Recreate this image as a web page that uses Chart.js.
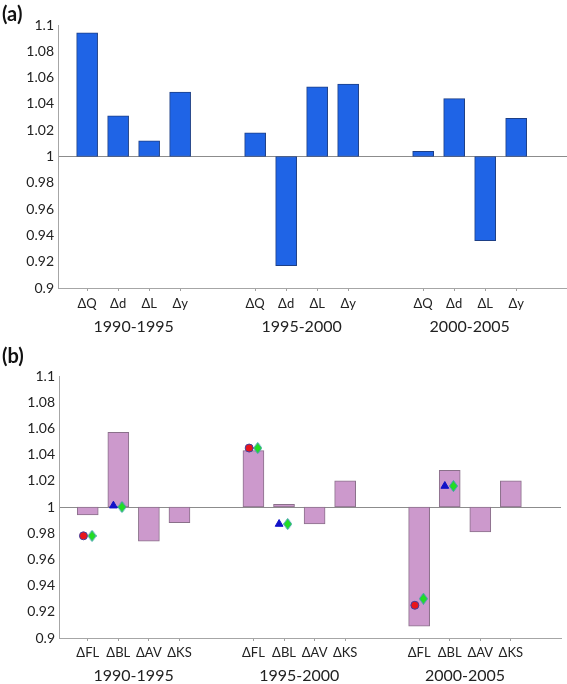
<!DOCTYPE html>
<html>
<head>
<meta charset="utf-8">
<script src="https://cdn.jsdelivr.net/npm/chart.js@4.4.0/dist/chart.umd.min.js"></script>
<style>
  body { margin: 0; background: #fff; width: 567px; height: 684px; overflow: hidden; position: relative; }
  canvas { position: absolute; left: 0; }
  .tag { position: absolute; left: 2px; font: bold 20px Lato, sans-serif; color: #111; line-height: 1; }
</style>
</head>
<body>
<canvas id="chartA" width="567" height="340" style="top:0"></canvas>
<canvas id="chartB" width="567" height="344" style="top:340px"></canvas>
<div class="tag" style="top:3px">(a)</div>
<div class="tag" style="top:345px">(b)</div>
<script>
const periods = ['1990-1995', '1995-2000', '2000-2005'];

// panel (a)
const factorsA = ['ΔQ', 'Δd', 'ΔL', 'Δy'];
const valuesA1990 = [1.094, 1.031, 1.012, 1.049];
const valuesA1995 = [1.018, 0.917, 1.053, 1.055];
const valuesA2000 = [1.004, 1.044, 0.936, 1.029];

// panel (b)
const factorsB = ['ΔFL', 'ΔBL', 'ΔAV', 'ΔKS'];
const valuesB1990 = [0.994, 1.057, 0.974, 0.988];
const valuesB1995 = [1.043, 1.002, 0.987, 1.020];
const valuesB2000 = [0.909, 1.028, 0.981, 1.020];

// markers in panel (b), one per period
const circleFL = [0.978, 1.045, 0.925];
const diamondFL = [0.978, 1.045, 0.930];
const triangleBL = [1.001, 0.987, 1.016];
const diamondBL = [1.000, 0.987, 1.016];

// x layout (axis units)
const X_MAX = 16.42;
const FIRST = 0.94;
const GROUP_STEP = 5.42;
function xPos(g, i) { return FIRST + g * GROUP_STEP + i; }

const font = 'Lato';

function diamondImage() {
  const c = document.createElement('canvas');
  c.width = 9; c.height = 12;
  const g = c.getContext('2d');
  g.beginPath();
  g.moveTo(4.5, 0.5); g.lineTo(8.5, 6); g.lineTo(4.5, 11.5); g.lineTo(0.5, 6); g.closePath();
  g.fillStyle = '#22dd22'; g.fill();
  g.strokeStyle = '#3b9fb0'; g.lineWidth = 1; g.stroke();
  return c;
}

function buildChart(id, factors, groupValues, fill, edge, extraSets, pad) {
  const bars = [];
  const tickPos = [];
  const tickText = [];
  groupValues.forEach((vals, g) => {
    vals.forEach((v, i) => {
      bars.push({ x: xPos(g, i), y: [1, v] });
      tickPos.push(xPos(g, i));
      tickText.push(factors[i]);
    });
  });

  return new Chart(document.getElementById(id), {
    type: 'bar',
    data: {
      datasets: [{
        type: 'bar',
        data: bars,
        backgroundColor: fill,
        borderColor: edge,
        borderWidth: 1,
        borderSkipped: false,
        barThickness: 21,
        order: 5
      }, ...extraSets]
    },
    options: {
      responsive: false,
      animation: false,
      layout: { padding: { top: pad.top, left: 0, right: 0, bottom: 0 } },
      plugins: { legend: { display: false }, tooltip: { enabled: false } },
      scales: {
        x: {
          type: 'linear', position: 'bottom', min: 0, max: X_MAX, offset: false, weight: 0,
          afterBuildTicks: ax => { ax.ticks = tickPos.map(v => ({ value: v })); },
          afterFit: ax => { ax.height = pad.catH; },
          grid: { drawOnChartArea: false, tickLength: 3, color: '#a0a0a0', offset: false },
          border: { color: '#a6a6a6' },
          ticks: {
            autoSkip: false, maxRotation: 0, padding: pad.catPad, color: '#222',
            font: { family: font, size: 13 },
            callback: (v, i) => tickText[i]
          }
        },
        xp: {
          type: 'linear', position: 'bottom', min: 0, max: X_MAX, offset: false, weight: 1,
          grid: { display: false, drawTicks: false, offset: false },
          border: { display: false },
          afterBuildTicks: ax => { ax.ticks = periods.map((p, g) => ({ value: xPos(g, 1.5) })); },
          afterFit: ax => { ax.height = pad.perH; },
          ticks: {
            autoSkip: false, maxRotation: 0, padding: pad.perPad, color: '#222',
            font: { family: font, size: 16 },
            callback: (v, i) => periods[i]
          }
        },
        y: {
          min: 0.9, max: 1.1,
          afterFit: ax => { ax.width = pad.left; },
          grid: {
            drawTicks: false,
            color: c => (c.tick && Math.abs(c.tick.value - 1) < 1e-6) ? '#8c8c8c' : 'rgba(0,0,0,0)'
          },
          border: { color: '#a6a6a6' },
          ticks: {
            stepSize: 0.02, padding: 4, color: '#222',
            font: { family: font, size: 14 },
            callback: v => String(+v.toFixed(2))
          }
        }
      }
    }
  });
}

buildChart('chartA', factorsA, [valuesA1990, valuesA1995, valuesA2000],
  '#1f64e6', '#1d3f86', [],
  { top: 25, left: 58, catH: 25, catPad: 5, perH: 27, perPad: 4 });

const diamond = diamondImage();
const markerSets = [
  {
    type: 'scatter',
    data: circleFL.map((v, g) => ({ x: xPos(g, 0) - 0.14, y: v })),
    pointStyle: 'circle', pointRadius: 4,
    backgroundColor: '#e8141c', borderColor: '#4040a0', borderWidth: 1, order: 0
  },
  {
    type: 'scatter',
    data: triangleBL.map((v, g) => ({ x: xPos(g, 1) - 0.16, y: v })),
    pointStyle: 'triangle', pointRadius: 4.5,
    backgroundColor: '#1212c8', borderColor: '#1212c8', borderWidth: 1, order: 0
  },
  {
    type: 'scatter',
    data: diamondFL.map((v, g) => ({ x: xPos(g, 0) + 0.14, y: v }))
      .concat(diamondBL.map((v, g) => ({ x: xPos(g, 1) + 0.12, y: v }))),
    pointStyle: diamond, pointRadius: 5, order: 0
  }
];

buildChart('chartB', factorsB, [valuesB1990, valuesB1995, valuesB2000],
  '#cc99cc', '#8a708a', markerSets,
  { top: 36, left: 59, catH: 24, catPad: 4, perH: 22, perPad: 4 });
</script>
</body>
</html>
